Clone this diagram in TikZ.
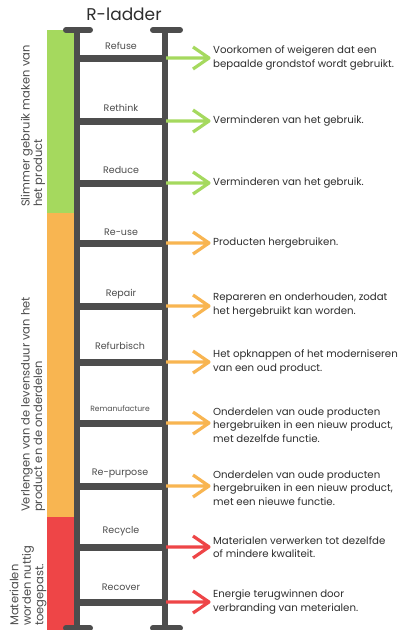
\documentclass[tikz,border=0pt]{standalone}
\usepackage{fontspec}
\setmainfont{Poppins}
\definecolor{lgreen}{HTML}{A5D95E}
\definecolor{lorange}{HTML}{F8B551}
\definecolor{lred}{HTML}{EE4547}
\definecolor{lgray}{HTML}{4D4D4D}
\definecolor{ltext}{HTML}{2E2E2E}
\tikzset{
  rail/.style={lgray, line width=6pt},
  capbar/.style={lgray, line width=6pt, line cap=round},
  rung/.style={lgray, line width=7pt},
  runglabel/.style={font=\fontsize{9.5}{11}\selectfont, text=lgray, inner sep=0pt},
  desc/.style={font=\fontsize{10.2}{13.5}\selectfont, text=ltext, align=left, anchor=west, inner sep=0pt},
  arr/.style={line width=3.2pt, line join=round},
  sidelabel/.style={font=\fontsize{11.5}{12.5}\selectfont, text=lgray, align=left, rotate=90, anchor=west, inner sep=0pt},
}
\begin{document}
\begin{tikzpicture}[x=1pt,y=-1pt]
\useasboundingbox (0,0) rectangle (419,630);
\fill[white] (0,0) rectangle (419,630);
% colour bar
\fill[lgreen] (47,30) rectangle (74,213);
\fill[lorange] (47,213) rectangle (74,517);
\fill[lred] (47,517) rectangle (74,630);
% title
\node[font=\fontsize{17}{20}\selectfont, text=ltext] (title) at (124,14) {R-ladder};
% rails
\draw[rail] (77,30) -- (77,631);
\draw[rail] (165,30) -- (165,631);
\draw[capbar] (66,30) -- (90,30);
\draw[capbar] (153,30) -- (180,30);
\draw[capbar] (66,628) -- (90,628);
\draw[capbar] (153,628) -- (180,628);
% rungs
\foreach \n/\y in {1/58,2/121,3/183,4/243,5/306,6/362,7/423,8/486,9/547,10/602}{
  \draw[rung] (77,\y) -- (165,\y);
  \coordinate (r\n) at (166,\y);
}
% rung labels
\node[runglabel] (l1) at (121,46) {Refuse};
\node[runglabel] (l2) at (121,108) {Rethink};
\node[runglabel] (l3) at (121,170) {Reduce};
\node[runglabel] (l4) at (121,232) {Re-use};
\node[runglabel] (l5) at (121,294) {Repair};
\node[runglabel] (l6) at (120,346) {Refurbisch};
\node[runglabel, font=\fontsize{7.6}{9}\selectfont] (l7) at (120,409) {Remanufacture};
\node[runglabel] (l8) at (120,473) {Re-purpose};
\node[runglabel] (l9) at (121,531) {Recycle};
\node[runglabel] (l10) at (121,587) {Recover};
% descriptions
\node[desc] (t1) at (213,58) {Voorkomen of weigeren dat een\\bepaalde grondstof wordt gebruikt.};
\node[desc] (t2) at (213,121) {Verminderen van het gebruik.};
\node[desc] (t3) at (213,183) {Verminderen van het gebruik.};
\node[desc] (t4) at (213,243) {Producten hergebruiken.};
\node[desc] (t5) at (213,305) {Repareren en onderhouden, zodat\\het hergebruikt kan worden.};
\node[desc] (t6) at (213,362) {Het opknappen of het moderniseren\\van een oud product.};
\node[desc] (t7) at (213,425) {Onderdelen van oude producten\\hergebruiken in een nieuw product,\\met dezelfde functie.};
\node[desc] (t8) at (213,488) {Onderdelen van oude producten\\hergebruiken in een nieuw product,\\met een nieuwe functie.};
\node[desc] (t9) at (213,547) {Materialen verwerken tot dezelfde\\of mindere kwaliteit.};
\node[desc] (t10) at (213,602) {Energie terugwinnen door\\verbranding van meterialen.};
% arrows (shaft plus open chevron)
\foreach \n/\c in {1/lgreen,2/lgreen,3/lgreen,4/lorange,5/lorange,6/lorange,7/lorange,8/lorange,9/lred,10/lred}{
  \draw[arr, \c] (r\n) -- ([xshift=-4pt]r\n -| t\n.west) coordinate (tp\n)
    ++(-16,-11) -- (tp\n) -- ++(-16,11);
}
% side labels
\node[sidelabel] (s1) at (33,207) {Slimmer gebruik maken van\\het product};
\node[sidelabel] (s2) at (33,512) {Verlengen van de levensduur van het\\product en de onderdelen};
\node[sidelabel] (s3) at (28,626) {Materialen\\worden nuttig\\toegepast.};
\end{tikzpicture}
\end{document}
